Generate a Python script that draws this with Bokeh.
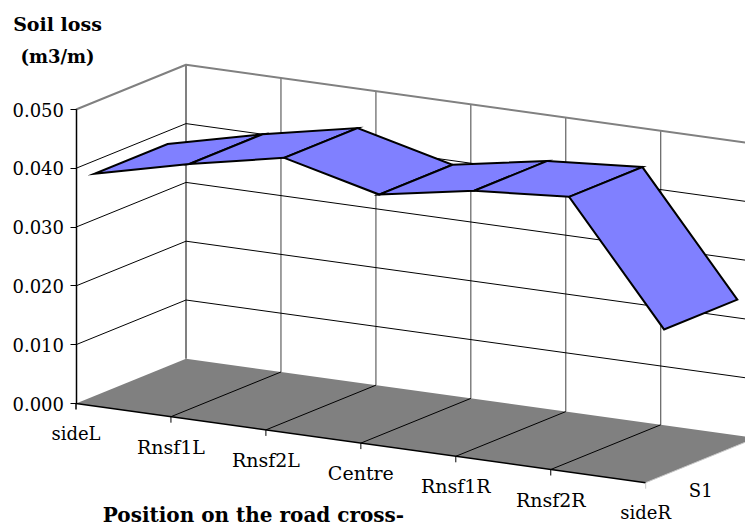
from bokeh.plotting import figure
from bokeh.models import Range1d, LinearAxis, FixedTicker, NumeralTickFormatter, Label
from bokeh.embed import file_html
from bokeh.resources import INLINE

# ---- data ----
categories = ["sideL", "Rnsf1L", "Rnsf2L", "Centre", "Rnsf1R", "Rnsf2R", "sideR"]
soil_loss = [0.0378, 0.0417, 0.0450, 0.0410, 0.0439, 0.0451, 0.0248]
value_ticks = [0.0, 0.01, 0.02, 0.03, 0.04, 0.05]
series_name = "S1"
y_title = ["Soil loss", "(m3/m)"]
x_title = "Position on the road cross-"

# ---- oblique projection of the 3-D chart box ----
OX, OY = 75.5, 403.0
CAT_DX, CAT_DY = 94.95, 13.2
DEPTH_DX, DEPTH_DY = 110.0, -44.7
V_SCALE = 5880.0
F0, F1 = 0.167, 0.833     # ribbon extent in depth
N = len(categories)
SERIF = "DejaVu Serif"
W, H = 745, 526


def px(i, d=0.0):
    return OX + i * CAT_DX + d * DEPTH_DX


def py(i, d=0.0, v=0.0):
    return OY + i * CAT_DY + d * DEPTH_DY - v * V_SCALE


p = figure(width=W, height=H, output_backend="svg", toolbar_location=None,
           x_range=Range1d(0, W), y_range=Range1d(H, 0),
           x_axis_type=None, y_axis_type=None,
           min_border_left=0, min_border_right=0, min_border_top=0, min_border_bottom=0)
p.outline_line_color = None
p.grid.visible = False
p.background_fill_color = "white"

# real value axis, fixed inside the frame at the front-left corner
p.extra_y_ranges = {"v": Range1d((OY - H) / V_SCALE, OY / V_SCALE)}
ax = LinearAxis(y_range_name="v", ticker=FixedTicker(ticks=value_ticks),
                formatter=NumeralTickFormatter(format="0.000"), bounds=(0, 0.05),
                fixed_location=OX)
ax.axis_line_color = "black"
ax.axis_line_width = 1.5
ax.major_tick_line_color = "black"
ax.major_tick_line_width = 1
ax.major_tick_in = 0
ax.major_tick_out = 6
ax.minor_tick_line_color = None
ax.major_label_standoff = 6
ax.major_label_text_font = SERIF
ax.major_label_text_font_size = "18px"
ax.major_label_text_color = "black"
p.add_layout(ax, "left")

# back-wall verticals
for i in range(N):
    col, w = ("#808080", 2) if i == 0 else (("#808080", 1.5) if i < 3 else ("#404040", 1))
    p.line([px(i, 1), px(i, 1)], [py(i, 1), py(i, 1, value_ticks[-1])], line_color=col, line_width=w)

# wall gridlines
for v in value_ticks[1:]:
    col, w = ("#808080", 2) if v == value_ticks[-1] else ("black", 1)
    p.line([px(0), px(0, 1), px(N - 1, 1)], [py(0, 0, v), py(0, 1, v), py(N - 1, 1, v)],
           line_color=col, line_width=w)

# floor
p.patch([px(0), px(N - 1), px(N - 1, 1), px(0, 1)],
        [py(0), py(N - 1), py(N - 1, 1), py(0, 1)],
        fill_color="#808080", line_color=None)
for i in range(1, N - 1):
    p.line([px(i), px(i, 1)], [py(i), py(i, 1)], line_color="black", line_width=1)
p.line([px(N - 1), px(N - 1, 1)], [py(N - 1), py(N - 1, 1)], line_color="#c8c8c8", line_width=1)
p.line([px(0), px(N - 1)], [py(0), py(N - 1)], line_color="black", line_width=1.5)

# category ticks
p.line([px(0), px(0)], [py(0), py(0) + 6], line_color="black", line_width=1.5)
for i in range(1, N):
    p.line([px(i), px(i)], [py(i), py(i) + 6],
           line_color="black" if i < N - 1 else "#c8c8c8", line_width=1)

# ribbon
for i in range(N - 1):
    a, b = soil_loss[i], soil_loss[i + 1]
    p.patch([px(i, F0), px(i + 1, F0), px(i + 1, F1), px(i, F1)],
            [py(i, F0, a), py(i + 1, F0, b), py(i + 1, F1, b), py(i, F1, a)],
            fill_color="#8080ff", line_color="black", line_width=2, line_join="miter")


def label(x, y, text, bold=False, size="18px"):
    p.add_layout(Label(x=x, y=y, text=text, text_font=SERIF, text_font_size=size,
                       text_font_style="bold" if bold else "normal",
                       text_align="center", text_baseline="middle", text_color="black"))


for i, c in enumerate(categories):
    label(px(i), py(i) + 30, c, size="18px" if c.startswith("side") else "19px")
label(px(N - 1, 0.5), py(N - 1, 0.5) + 30, series_name)
label(57, 23, y_title[0], bold=True, size="19px")
label(57, 56, y_title[1], bold=True)
label(253, 514, x_title, bold=True, size="20px")

open("out.html", "w").write(file_html(p, INLINE))
